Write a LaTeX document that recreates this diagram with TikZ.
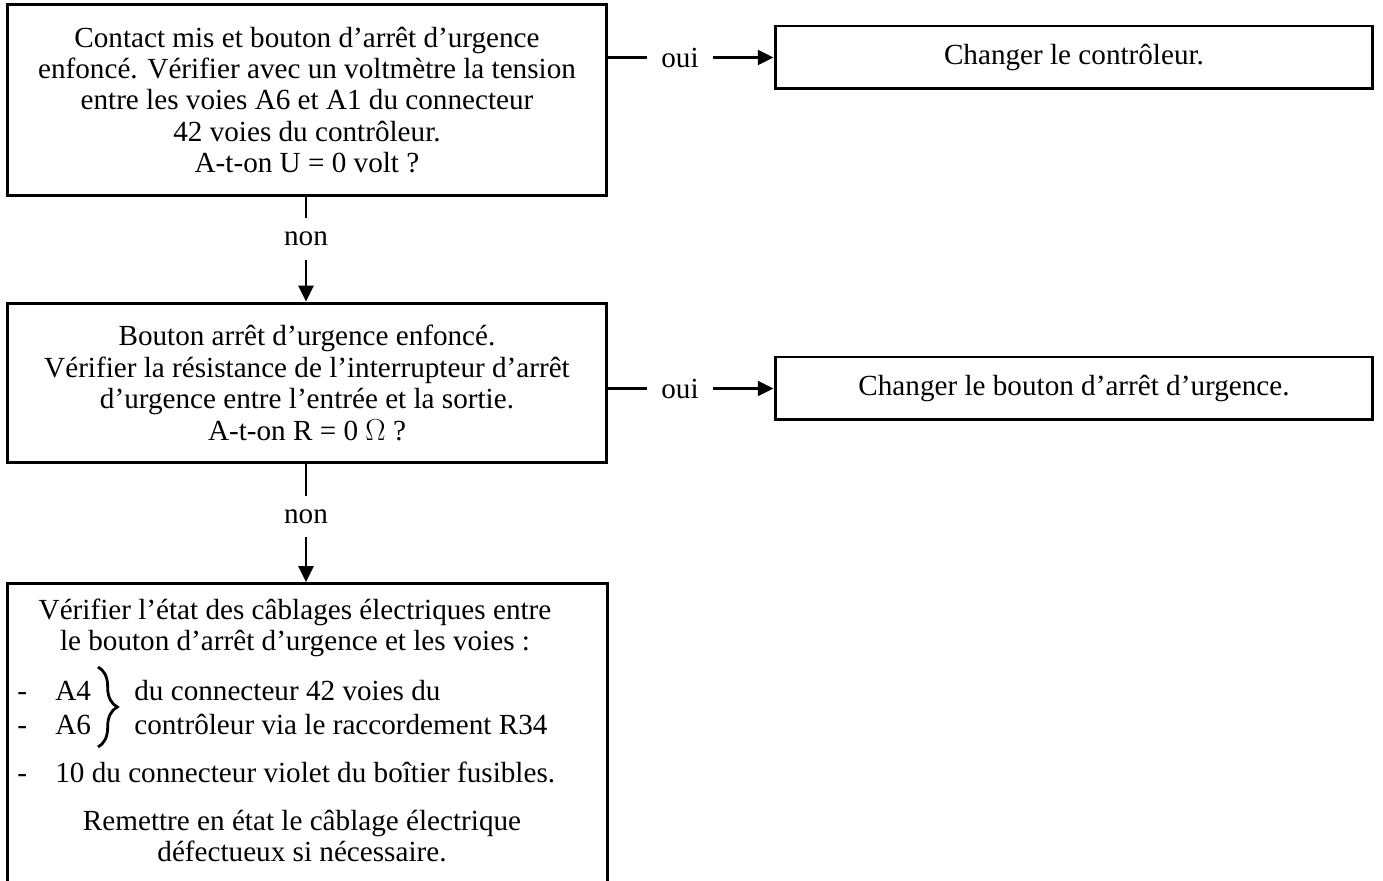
\documentclass[tikz,border=0pt]{standalone}
\usepackage{fontspec}
\setmainfont{Liberation Serif}
\usetikzlibrary{arrows.meta,positioning,decorations.pathreplacing}

\begin{document}
\begin{tikzpicture}[
		x=0.02cm, y=-0.02cm, >={Triangle[length=9pt,width=8.5pt]},
		font=\fontsize{16.6}{17.9}\selectfont,
		question/.style={draw, line width=1.7pt, minimum width=12cm, align=center, inner sep=0pt},
		reponse/.style={draw, line width=1.7pt, minimum width=11.96cm, minimum height=1.26cm},
		choix/.style={inner sep=0pt},
		fleche/.style={line width=1.4pt}]
	\clip (0,0) rectangle (1383,881);
	
	%% cases de gauche
	\node[question, minimum height=3.84cm] (q1) at (307,100)
		{Contact mis et bouton d’arrêt d’urgence\\
		 enfoncé. Vérifier avec un voltmètre la tension\\
		 entre les voies A6 et A1 du connecteur\\
		 42 voies du contrôleur.\\
		 A-t-on U = 0 volt ?};
	\node[question, minimum height=3.2cm] (q2) at (307,383)
		{Bouton arrêt d’urgence enfoncé.\\
		 Vérifier la résistance de l’interrupteur d’arrêt\\
		 d’urgence entre l’entrée et la sortie.\\
		 A-t-on R = 0 $\Omega$ ?};
	\node[question, minimum height=7cm, anchor=north] (q3) at (307.5,582) {};
	
	%% cases de droite
	\node[reponse] (r1) at (1074,57.5) {Changer le contrôleur.};
	\node[reponse] (r2) at (1074,388.5) {Changer le bouton d’arrêt d’urgence.};
	
	%% oui / non
	\node[choix, minimum width=1.32cm] (o1) at (680,57.5) {oui};
	\node[choix, minimum width=1.32cm] (o2) at (680,388.5) {oui};
	\node[choix, minimum height=0.84cm] (n1) at (306,239) {non};
	\node[choix, minimum height=0.82cm] (n2) at (306,516.5) {non};
	
	\draw[fleche] (q1.east |- o1) -- (o1.west);
	\draw[fleche, ->] (o1.east) -- (r1.west);
	\draw[fleche] (q2.east |- o2) -- (o2.west);
	\draw[fleche, ->] (o2.east) -- (r2.west);
	\draw[fleche] (n1 |- q1.south) -- (n1.north);
	\draw[fleche, ->] (n1.south) -- (n1 |- q2.north);
	\draw[fleche] (n2 |- q2.south) -- (n2.north);
	\draw[fleche, ->] (n2.south) -- (n2 |- q3.north);
	
	%% contenu de la derniere case
	\node[align=center] (t1) at (295,628)
		{Vérifier l’état des câblages électriques entre\\
		 le bouton d’arrêt d’urgence et les voies :};
	\node[choix, anchor=base west] (d1) at (17,700) {-};
	\node[choix, anchor=base west] (d2) at (17,734) {-};
	\node[choix, anchor=base west] (d3) at (17,782) {-};
	\node[choix, anchor=base west] (a4) at (55,700) {A4};
	\node[choix, anchor=base west] (a6) at (55,734) {A6};
	\node[choix, anchor=base west] (c1) at (134,700) {du connecteur 42 voies du};
	\node[choix, anchor=base west] (c2) at (134,734) {contrôleur via le raccordement R34};
	\node[choix, anchor=base west] (c3) at (55,782) {10 du connecteur violet du boîtier fusibles.};
	\draw[line width=1.6pt, decorate, decoration={brace, amplitude=11pt}] (98,667) -- (98,747);
	\node[align=center] (t2) at (302,836)
		{Remettre en état le câblage électrique\\
		 défectueux si nécessaire.};
\end{tikzpicture}
\end{document}
